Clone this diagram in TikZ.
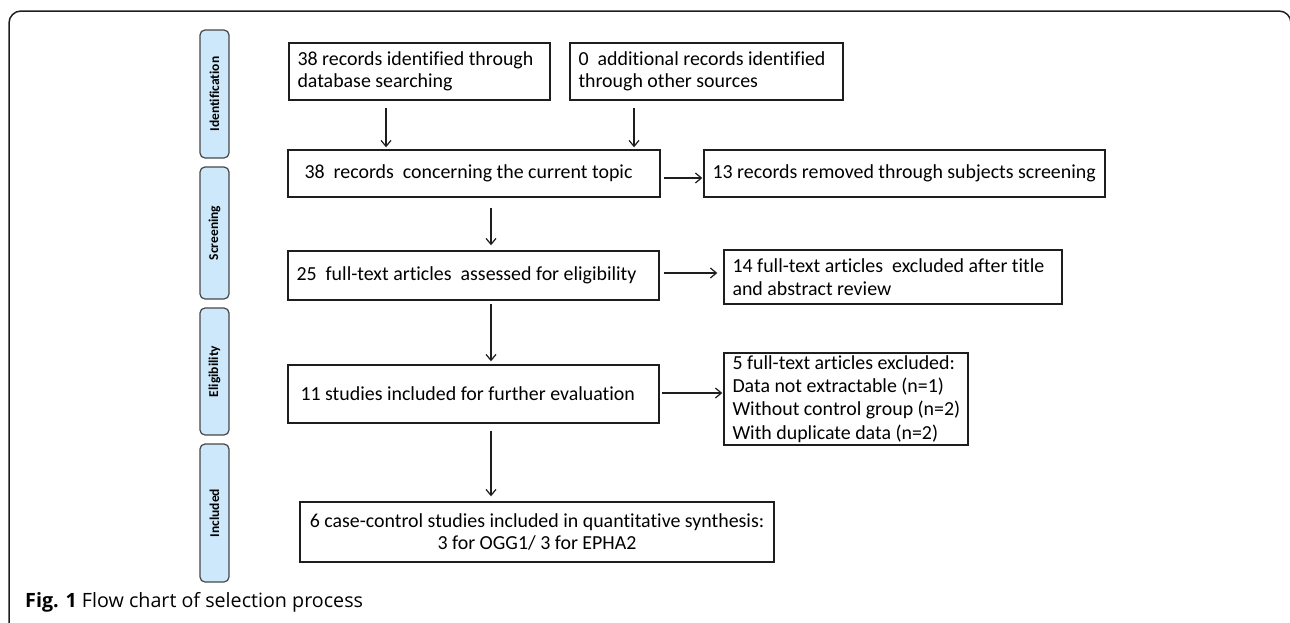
\documentclass[tikz,border=0pt]{standalone}
\usepackage{fontspec}
\setmainfont{Carlito}[Ligatures=NoCommon]
\newfontfamily\capfont{Open Sans}
\usetikzlibrary{arrows.meta,calc}
\definecolor{stagefill}{RGB}{205,232,250}
\definecolor{stageline}{RGB}{70,70,70}
\definecolor{boxline}{RGB}{30,30,30}
\tikzset{
  frameline/.style={draw=boxline, line width=1.5pt, rounded corners=12pt},
  boxframe/.style={draw=boxline, line width=1.4pt, rectangle, inner sep=0pt},
  txt/.style={inner sep=0pt, align=left, font=\fontsize{19.9}{22.5}\selectfont},
  stage/.style={draw=stageline, fill=stagefill, line width=1.2pt, rounded corners=5pt,
    minimum height=29pt, inner sep=0pt, rotate=90,
    font=\fontsize{13.5}{14}\selectfont\bfseries},
  arr/.style={-{Straight Barb[length=6pt,width=10pt]}, line width=1.2pt, draw=boxline},
}
\begin{document}
\begin{tikzpicture}[x=1pt,y=-1pt]
\clip (0,0) rectangle (1290,622);
\draw[frameline] (9,660) -- (9,11) -- (1291,11) -- (1291,660);

% stage labels
\node[stage, minimum width=128pt] (s1) at (214.5,94) {Identification};
\node[stage, minimum width=132pt] (s2) at (214.5,233) {Screening};
\node[stage, minimum width=127pt] (s3) at (214.5,371.5) {Eligibility};
\node[stage, minimum width=138pt] (s4) at (214.5,513) {Included};

% boxes
\node[boxframe, minimum width=261pt, minimum height=57pt] (a) at (419.5,71.5) {};
\node[txt, anchor=west] (at) at ($(a.west)+(9,0)$) {38 records identified through\\database searching};

\node[boxframe, minimum width=273pt, minimum height=57pt] (b) at (706.5,71.5) {};
\node[txt, anchor=west] (bt) at ($(b.west)+(9,0)$) {0\ \ additional records identified\\through other sources};

\node[boxframe, minimum width=372pt, minimum height=47pt] (c) at (474,173.5) {};
\node[txt, anchor=west] (ct) at ($(c.west)+(17,0)$) {38\ \ records\ \ concerning the current topic};

\node[boxframe, minimum width=401pt, minimum height=47pt] (d) at (904.5,173.5) {};
\node[txt, anchor=west] (dt) at ($(d.west)+(9,0)$) {13 records removed through subjects screening};

\node[boxframe, minimum width=371pt, minimum height=49pt] (e) at (473.5,275.5) {};
\node[txt, anchor=west] (et) at ($(e.west)+(9,0)$) {25\ \ full-text articles\ \ assessed for eligibility};

\node[boxframe, minimum width=338pt, minimum height=54pt] (f) at (893,277) {};
\node[txt, anchor=west] (ft) at ($(f.west)+(9,0)$) {14 full-text articles\ \ excluded after title\\and abstract review};

\node[boxframe, minimum width=371pt, minimum height=58pt] (g) at (473.5,394) {};
\node[txt, anchor=west] (gt) at ($(g.west)+(13,0)$) {11 studies included for further evaluation};

\node[boxframe, minimum width=244pt, minimum height=92pt] (h) at (846,399) {};
\node[txt, anchor=west, font=\fontsize{19.9}{23.2}\selectfont] (ht) at ($(h.west)+(9,0)$) {5 full-text articles excluded:\\Data not extractable (n=1)\\Without control group (n=2)\\With duplicate data (n=2)};

\node[boxframe, minimum width=474pt, minimum height=60pt] (i) at (537,532) {};
\node[txt, align=center] (it) at (i.center) {6 case-control studies included in quantitative synthesis:\\3 for OGG1/ 3 for EPHA2};

% arrows
\draw[arr] ($(a.south)+(-33.5,7)$) -- ($(c.north)+(-88,-2)$);
\draw[arr] ($(b.south)+(-72.5,7)$) -- ($(c.north)+(160,-2)$);
\draw[arr] ($(c.east)+(3,4.5)$) -- ($(d.west)+(-1,4.5)$);
\draw[arr] ($(c.south)+(17,10)$) -- ($(e.north)+(17.5,-5)$);
\draw[arr] ($(e.east)+(4,-2.5)$) -- ($(f.west)+(-6,-4)$);
\draw[arr] ($(e.south)+(17.5,3)$) -- ($(g.north)+(17.5,-3)$);
\draw[arr] ($(g.east)+(2,-1)$) -- ($(h.west)+(-1,-6)$);
\draw[arr] ($(g.south)+(17.5,7)$) -- ($(i.north)+(-46,-5)$);

% caption
\node[inner sep=0pt, anchor=base west, font=\capfont\fontsize{19.7}{21}\selectfont] (cap) at (25,607) {\textbf{Fig. 1} Flow chart of selection process};
\end{tikzpicture}
\end{document}
